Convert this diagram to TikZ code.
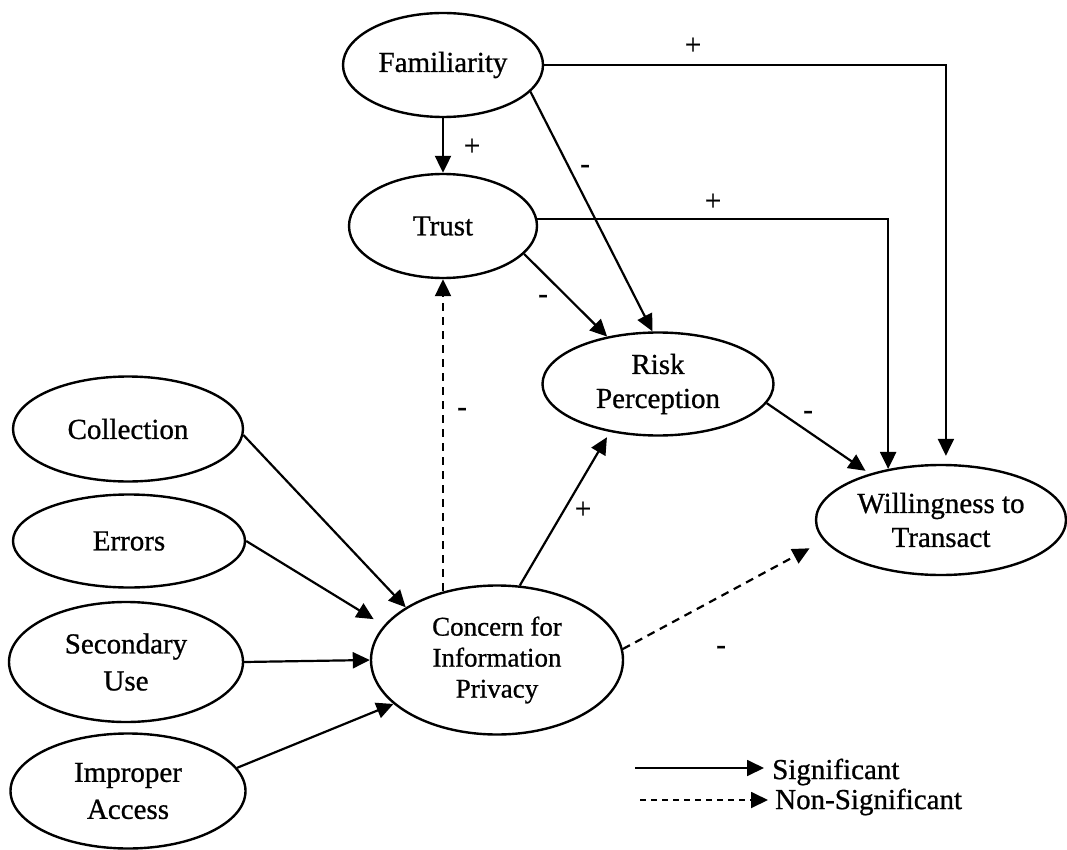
\documentclass[tikz,border=0pt]{standalone}
\usepackage{fontspec}
\setmainfont{Liberation Serif}[FakeBold=0.8]
\usetikzlibrary{arrows.meta,shapes.geometric}
\begin{document}
\begin{tikzpicture}[x=1pt,y=-1pt,
  construct/.style={draw, ellipse, line width=2.4pt, inner sep=0pt, align=center,
                    font=\fontsize{29}{34}\selectfont},
  link/.style={line width=2.2pt, -{Triangle[length=17pt,width=16pt]}},
  weak/.style={link, dash pattern=on 8pt off 6pt},
  sign/.style={inner sep=0pt, font=\fontsize{29}{34}\selectfont},
  legendtext/.style={anchor=west, inner sep=0pt, font=\fontsize{29}{34}\selectfont}]
\useasboundingbox (0,0) rectangle (1067,850);

% constructs
\node[construct, minimum width=200pt, minimum height=104pt] (fam) at (443,65) {Familiarity};
\node[construct, minimum width=188pt, minimum height=104pt] (trust) at (443,226) {Trust};
\node[construct, minimum width=231pt, minimum height=103pt] (risk) at (658,384) {Risk\\Perception};
\node[construct, minimum width=250pt, minimum height=110pt] (will) at (941,520) {Willingness to\\Transact};
\node[construct, minimum width=230pt, minimum height=105pt] (coll) at (128,429) {Collection};
\node[construct, minimum width=232pt, minimum height=93pt] (err) at (129,541) {Errors};
\node[construct, minimum width=234pt, minimum height=120pt, font=\fontsize{29}{37}\selectfont] (sec) at (126,662) {Secondary\\Use};
\node[construct, minimum width=235pt, minimum height=115pt, font=\fontsize{29}{37}\selectfont] (imp) at (128,791) {Improper\\Access};
\node[construct, minimum width=252pt, minimum height=149pt, font=\fontsize{27}{31}\selectfont] (cfip) at (497,660) {Concern for\\Information\\Privacy};

% dimensions of privacy concern
\draw[link] (coll.-3) -- (cfip.150);
\draw[link, shorten >=12pt] (err.east) -- (cfip.163);
\draw[link] (sec.east) -- (cfip.west);
\draw[link] (imp.12) -- (cfip.203);

% structural paths
\draw[weak] (cfip.127 -| trust.south) -- (trust.south);
\draw[link] (fam.south) -- (trust.north);
\draw[link] (fam.-17) -- (risk.96);
\draw[link] (trust.-19) -- (risk.137);
\draw[link] (trust.4) -| (will.136);
\draw[link, shorten >=8pt] (fam.east) -| (will.85);
\draw[link, shorten >=5pt] (risk.-10) -- (will.147);
\draw[link, shorten >=6pt] (cfip.73) -- (risk.225);
\draw[weak, shorten >=16pt] (cfip.5) -- (will.190);

% path signs
\node[sign] (sFW) at (693,46) {+};
\node[sign] (sFT) at (472,147) {+};
\node[sign] (sFR) at (585,169) {-};
\node[sign] (sTW) at (713,202) {+};
\node[sign] (sTR) at (543,299) {-};
\node[sign] (sCT) at (462,412) {-};
\node[sign] (sRW) at (808,415) {-};
\node[sign] (sCR) at (583,510) {+};
\node[sign] (sCW) at (721,650) {-};

% legend
\coordinate (s0) at (635,768);
\coordinate (n0) at (640,800);
\node[legendtext] (sig) at (772,772) {Significant};
\node[legendtext] (nsig) at (775,802) {Non-Significant};
\draw[link, line width=1.8pt, shorten >=8pt] (s0) -- (s0 -| sig.west);
\draw[weak, line width=1.8pt, dash pattern=on 6pt off 5pt, shorten >=7pt] (n0) -- (n0 -| nsig.west);
\end{tikzpicture}
\end{document}
